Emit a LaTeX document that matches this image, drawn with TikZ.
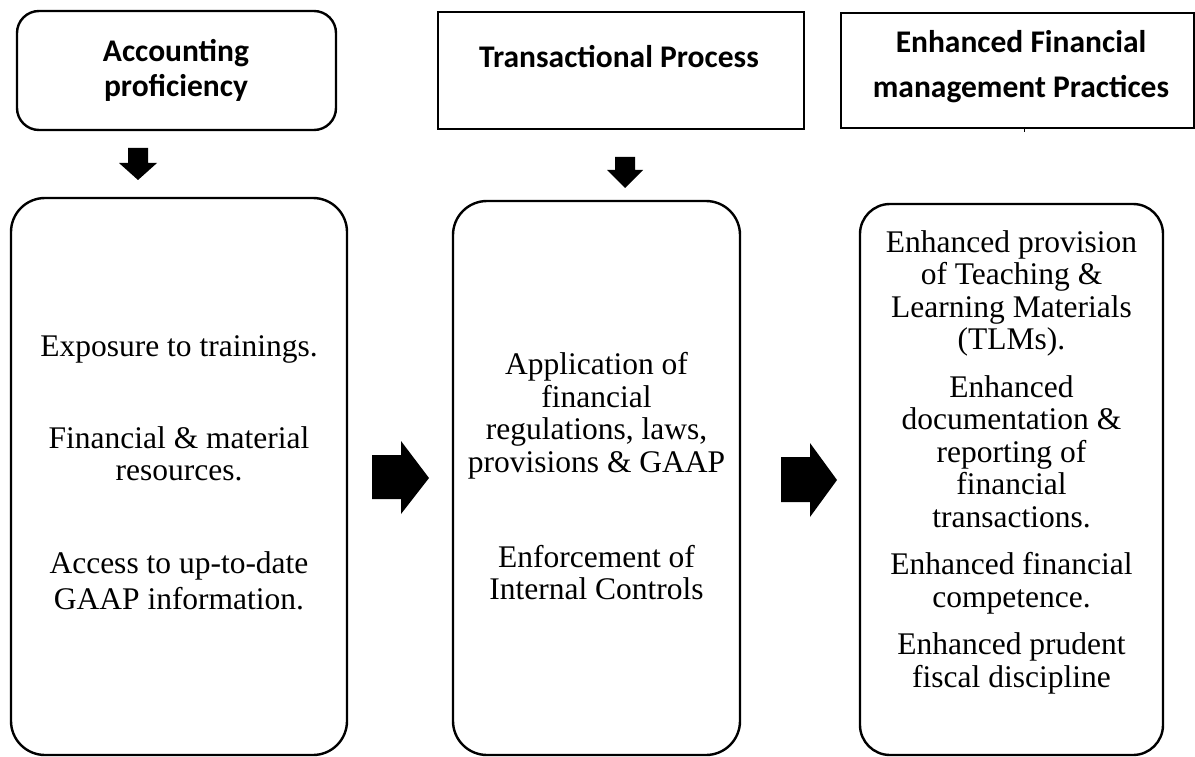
\documentclass[tikz,border=0pt]{standalone}
\usepackage{fontspec}
\setmainfont{Liberation Serif}
\newfontfamily\headfont{Carlito}
\begin{document}
\begin{tikzpicture}[x=1pt,y=-1pt,
  boxline/.style={draw=black, line width=2.4pt, inner sep=0pt},
  headbox/.style={boxline},
  bodybox/.style={boxline},
  blockarrow/.style={fill=black, draw=none},
  body/.style={anchor=base, inner sep=0pt, font=\fontsize{31.5}{33}\selectfont},
  head/.style={anchor=base, inner sep=0pt, font=\headfont\bfseries\fontsize{31.5}{36}\selectfont}]
\useasboundingbox (0,0) rectangle (1195,757);

% top heading boxes
\node[headbox, rounded corners=22pt, minimum width=319pt, minimum height=119pt] (H1) at (176.5,70.5) {};
\node[headbox, minimum width=366pt, minimum height=117pt] (H2) at (621,70.5) {};
\node[headbox, minimum width=353pt, minimum height=115pt] (H3) at (1017.5,70.5) {};

\node[head] (h1a) at (176,62) {Accounting};
\node[head] (h1b) at (176,97) {proficiency};
\node[head] (h2a) at (619,68) {Transactional Process};
\node[head] (h3a) at (1021,53) {Enhanced Financial};
\node[head] (h3b) at (1021,98) {management Practices};

\coordinate (tk) at (1024,132);
\draw[line width=0.8pt] (H3.south -| tk) -- (tk);

% bottom boxes
\node[bodybox, rounded corners=34pt, minimum width=336pt, minimum height=557pt] (A) at (179,476.5) {};
\node[bodybox, rounded corners=34pt, minimum width=287pt, minimum height=554pt] (B) at (596.5,478) {};
\node[bodybox, rounded corners=30pt, minimum width=303pt, minimum height=551pt] (C) at (1011.5,479.5) {};

% block arrows
\fill[blockarrow] (128,148) -- (148,148) -- (148,163) -- (157,163) -- (138,180) -- (119,163) -- (128,163) -- cycle;
\fill[blockarrow] (615,157) -- (635,157) -- (635,170) -- (643,170) -- (625,188) -- (607,170) -- (615,170) -- cycle;
\fill[blockarrow] (372,455) -- (401,455) -- (401,441) -- (429,478) -- (401,514) -- (401,499) -- (372,499) -- cycle;
\fill[blockarrow] (781,457) -- (810,457) -- (810,443) -- (837,480) -- (810,517) -- (810,502) -- (781,502) -- cycle;

% box A text
\node[body] (a1) at (179,356) {Exposure to trainings.};
\node[body] (a2) at (179,448) {Financial \& material};
\node[body] (a3) at (179,480.5) {resources.};
\node[body] (a4) at (179,573) {Access to up-to-date};
\node[body] (a5) at (179,609) {GAAP information.};

% box B text
\node[body] (b1) at (596.5,374.5) {Application of};
\node[body] (b2) at (596.5,407) {financial};
\node[body] (b3) at (596.5,439.5) {regulations, laws,};
\node[body] (b4) at (596.5,472) {provisions \& GAAP};
\node[body] (b5) at (596.5,567) {Enforcement of};
\node[body] (b6) at (596.5,599.5) {Internal Controls};

% box C text
\node[body] (c1) at (1011.5,252) {Enhanced provision};
\node[body] (c2) at (1011.5,284.5) {of Teaching \&};
\node[body] (c3) at (1011.5,317) {Learning Materials};
\node[body] (c4) at (1011.5,349.5) {(TLMs).};
\node[body] (c5) at (1011.5,397) {Enhanced};
\node[body] (c6) at (1011.5,429.5) {documentation \&};
\node[body] (c7) at (1011.5,462) {reporting of};
\node[body] (c8) at (1011.5,494.5) {financial};
\node[body] (c9) at (1011.5,527) {transactions.};
\node[body] (c10) at (1011.5,574.5) {Enhanced financial};
\node[body] (c11) at (1011.5,607) {competence.};
\node[body] (c12) at (1011.5,654.5) {Enhanced prudent};
\node[body] (c13) at (1011.5,687) {fiscal discipline};
\end{tikzpicture}
\end{document}
